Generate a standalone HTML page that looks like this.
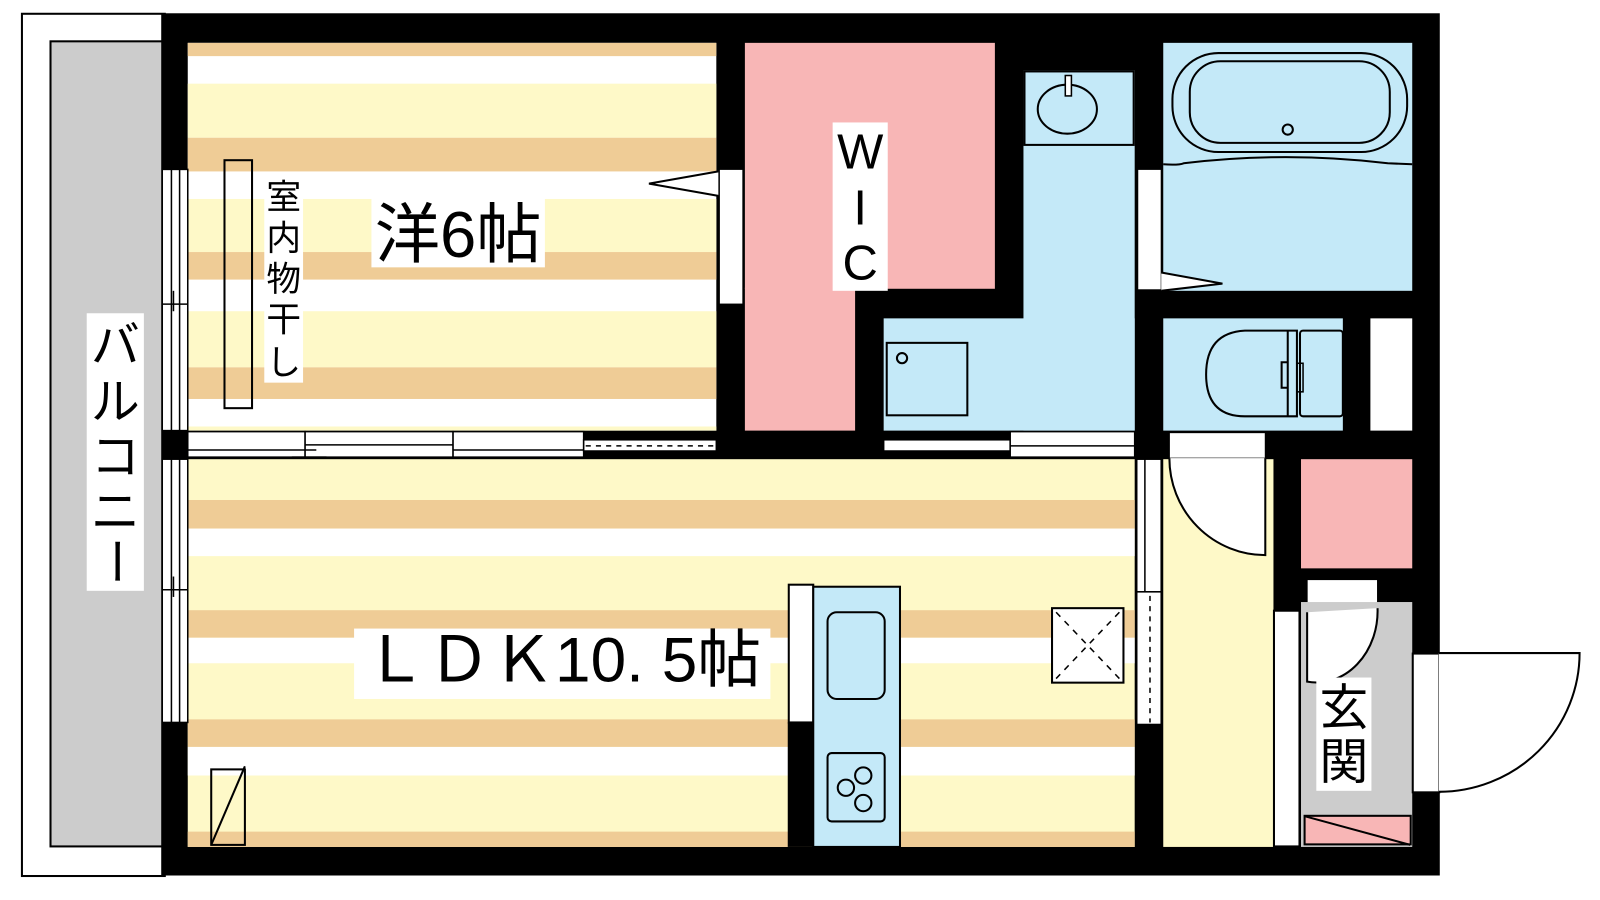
<!DOCTYPE html>
<html><head><meta charset="utf-8"><style>
html,body{margin:0;padding:0;background:#fff;}
svg{display:block;}
text{font-family:"Liberation Sans","Noto Sans CJK JP",sans-serif;fill:#000;}
</style></head><body>
<svg width="1600" height="900" viewBox="0 0 1600 900" xmlns="http://www.w3.org/2000/svg">
<g transform="scale(1.0204)">
<!-- balcony -->
<rect x="21.5" y="13.5" width="140" height="845" fill="#fff" stroke="#000" stroke-width="2"/>
<rect x="49.5" y="40.5" width="115" height="789" fill="#ccc" stroke="#000" stroke-width="2"/>
<!-- outer black -->
<rect x="158" y="13" width="1253" height="845" fill="#000"/>
<!-- western room stripes -->
<g>
<rect x="184" y="42" width="518" height="380" fill="#fff"/>
<rect x="184" y="42" width="518" height="13" fill="#efcc96"/>
<rect x="184" y="82" width="518" height="53" fill="#fef9c8"/>
<rect x="184" y="135" width="518" height="33" fill="#efcc96"/>
<rect x="184" y="195" width="518" height="52" fill="#fef9c8"/>
<rect x="184" y="247" width="518" height="27" fill="#efcc96"/>
<rect x="184" y="305" width="518" height="55" fill="#fef9c8"/>
<rect x="184" y="360" width="518" height="31" fill="#efcc96"/>
<rect x="184" y="418" width="518" height="4" fill="#fef9c8"/>
</g>
<!-- LDK stripes -->
<g>
<rect x="184" y="450" width="928" height="380" fill="#fef9c8"/>
<rect x="184" y="490" width="928" height="28" fill="#efcc96"/>
<rect x="184" y="518" width="928" height="27" fill="#fff"/>
<rect x="184" y="598" width="928" height="27" fill="#efcc96"/>
<rect x="184" y="625" width="928" height="25" fill="#fff"/>
<rect x="184" y="705" width="928" height="27" fill="#efcc96"/>
<rect x="184" y="732" width="928" height="28" fill="#fff"/>
<rect x="184" y="815" width="928" height="15" fill="#efcc96"/>
</g>
<!-- WIC -->
<rect x="730" y="42" width="245" height="241" fill="#f8b6b6"/>
<rect x="730" y="282" width="108" height="140" fill="#f8b6b6"/>
<!-- wash -->
<rect x="1003" y="69" width="109" height="353" fill="#c4e9f8"/>
<rect x="866" y="312" width="246" height="110" fill="#c4e9f8"/>
<!-- bath -->
<rect x="1140" y="42" width="244" height="243" fill="#c4e9f8"/>
<!-- toilet -->
<rect x="1140" y="312" width="176" height="110" fill="#c4e9f8"/>
<rect x="1343" y="312" width="41" height="110" fill="#fff"/>
<!-- hall -->
<rect x="1140" y="450" width="108" height="380" fill="#fef9c8"/>
<!-- pink storage -->
<rect x="1275" y="450" width="109" height="107" fill="#f8b6b6"/>
<rect x="1281" y="568" width="69" height="27" fill="#fff" stroke="#000" stroke-width="1"/>
<!-- genkan -->
<rect x="1275" y="590" width="109" height="240" fill="#ccc"/>
<rect x="1248.5" y="598.5" width="25" height="231" fill="#fff" stroke="#000" stroke-width="2"/>
<rect x="1278.5" y="799.5" width="104" height="28" fill="#f8b6b6" stroke="#000" stroke-width="2"/>
<line x1="1279" y1="800" x2="1382" y2="828" stroke="#000" stroke-width="2"/>
<path d="M1281 600 L1281 668 A60 70 0 0 0 1350 596" fill="#fff" stroke="#000" stroke-width="2"/>
<!-- outside door -->
<rect x="1384.5" y="640.5" width="26" height="136" fill="#fff" stroke="#000" stroke-width="2"/>
<path d="M1410 640 L1548 640 A138 136 0 0 1 1410 776" fill="#fff" stroke="#000" stroke-width="2"/>
<!-- hall door -->
<rect x="1146" y="424" width="94" height="25" fill="#fff" stroke="#000" stroke-width="1"/>
<path d="M1146 449 A94 95 0 0 0 1240 544 L1240 449" fill="#fff" stroke="#000" stroke-width="2"/>
<!-- western/WIC door -->
<rect x="704.5" y="165.5" width="24" height="133" fill="#fff" stroke="#000" stroke-width="2"/>
<path d="M704 168 L636 180 L704 192" fill="#fff" stroke="#000" stroke-width="2"/>
<!-- bath door -->
<rect x="1114.5" y="165.5" width="24" height="119" fill="#fff" stroke="#000" stroke-width="2"/>
<path d="M1138 267 L1198 278 L1138 285" fill="#fff" stroke="#000" stroke-width="2"/>
<!-- balcony windows -->
<g stroke="#000" stroke-width="1.5" fill="#fff">
<rect x="159" y="166" width="25" height="256"/>
<rect x="159" y="450" width="25" height="258"/>
</g>
<g stroke="#000" stroke-width="1.5">
<line x1="168" y1="166" x2="168" y2="422"/><line x1="176" y1="166" x2="176" y2="422"/>
<line x1="159" y1="298" x2="184" y2="298"/><line x1="170" y1="285" x2="170" y2="305"/>
<line x1="168" y1="450" x2="168" y2="708"/><line x1="176" y1="450" x2="176" y2="708"/>
<line x1="159" y1="578" x2="184" y2="578"/><line x1="170" y1="565" x2="170" y2="585"/>
</g>
<!-- window between western and LDK -->
<g stroke="#000" stroke-width="1.5" fill="#fff">
<rect x="184" y="431" width="389" height="17"/>
<rect x="184" y="423" width="115" height="25"/>
<rect x="299" y="423" width="145" height="25"/>
<rect x="444" y="423" width="128" height="25"/>
<rect x="572" y="431" width="130" height="11"/>
</g>
<g stroke="#000" stroke-width="1.5">
<line x1="184" y1="441" x2="310" y2="441"/><line x1="286" y1="448" x2="320" y2="448"/>
<line x1="299" y1="436" x2="444" y2="436"/>
<line x1="444" y1="441" x2="572" y2="441"/>
<line x1="574" y1="437" x2="702" y2="437" stroke-dasharray="5 5"/>
<line x1="866" y1="437" x2="990" y2="437" stroke-dasharray="5 5"/>
</g>
<g stroke="#000" stroke-width="1.5" fill="#fff">
<rect x="866" y="431" width="124" height="11"/>
<rect x="990" y="423" width="122" height="25"/>
</g>
<line x1="990" y1="437" x2="1112" y2="437" stroke="#000" stroke-width="1.5"/>
<!-- hall window -->
<g stroke="#000" stroke-width="1.5" fill="#fff">
<rect x="1114" y="450" width="24" height="130"/>
<rect x="1114" y="580" width="24" height="130"/>
</g>
<line x1="1122" y1="450" x2="1122" y2="580" stroke="#000" stroke-width="1.5"/>
<line x1="1127" y1="584" x2="1127" y2="708" stroke="#000" stroke-width="1.5" stroke-dasharray="5 5"/>
<!-- sink counter -->
<rect x="1004" y="70" width="107" height="72" fill="#c4e9f8" stroke="#000" stroke-width="2"/>
<ellipse cx="1046" cy="107" rx="29" ry="24" fill="#c4e9f8" stroke="#000" stroke-width="2"/>
<rect x="1044" y="74" width="6" height="20" fill="#fff" stroke="#000" stroke-width="1.5"/>
<!-- washer -->
<rect x="869" y="336" width="79" height="71" fill="#c4e9f8" stroke="#000" stroke-width="2"/>
<circle cx="884" cy="351" r="5" fill="none" stroke="#000" stroke-width="2"/>
<!-- tub -->
<rect x="1149" y="52" width="230" height="97" rx="45" fill="none" stroke="#000" stroke-width="2"/>
<rect x="1166" y="60" width="196" height="80" rx="30" fill="none" stroke="#000" stroke-width="2"/>
<circle cx="1262" cy="127" r="5" fill="none" stroke="#000" stroke-width="2"/>
<path d="M1140 161 Q1155 162 1160 160 Q1260 148 1360 160 L1384 161" fill="none" stroke="#000" stroke-width="2"/>
<!-- toilet -->
<path d="M1271 324 L1220 324 Q1182 326 1182 367 Q1182 408 1220 408 L1271 408 Z" fill="#c4e9f8" stroke="#000" stroke-width="2"/>
<line x1="1262" y1="324" x2="1262" y2="408" stroke="#000" stroke-width="2"/>
<path d="M1262 355 L1256 355 L1256 380 L1262 380" fill="none" stroke="#000" stroke-width="2"/>
<rect x="1274" y="324" width="42" height="84" rx="3" fill="#c4e9f8" stroke="#000" stroke-width="2"/>
<rect x="1271" y="356" width="6" height="28" fill="none" stroke="#000" stroke-width="1.5"/>
<!-- kitchen -->
<rect x="773" y="573" width="24" height="135" fill="#fff" stroke="#000" stroke-width="2"/>
<rect x="772" y="708" width="25" height="122" fill="#000"/>
<rect x="797" y="575" width="85" height="255" fill="#c4e9f8" stroke="#000" stroke-width="2"/>
<rect x="811" y="600" width="56" height="85" rx="9" fill="none" stroke="#000" stroke-width="2"/>
<rect x="811" y="738" width="56" height="67" rx="4" fill="none" stroke="#000" stroke-width="2"/>
<g fill="none" stroke="#000" stroke-width="2">
<circle cx="846" cy="760" r="8"/><circle cx="829" cy="772" r="8"/><circle cx="846" cy="787" r="8"/>
</g>
<!-- fridge -->
<rect x="1031" y="596" width="70" height="73" fill="#fff" stroke="#000" stroke-width="2"/>
<g stroke="#000" stroke-width="1.5" stroke-dasharray="6 6"><line x1="1035" y1="600" x2="1097" y2="665"/><line x1="1097" y1="600" x2="1035" y2="665"/></g>
<!-- small box LDK -->
<rect x="207" y="754" width="33" height="74" fill="none" stroke="#000" stroke-width="2"/>
<line x1="207" y1="828" x2="240" y2="751" stroke="#000" stroke-width="2"/>
<!-- drying rail -->
<rect x="220" y="157" width="27" height="243" fill="none" stroke="#000" stroke-width="2"/>
<!-- labels -->
<rect x="259" y="175" width="38" height="200" fill="#fff"/>
<text x="278" y="205" font-size="34" text-anchor="middle">室</text>
<text x="278" y="245" font-size="34" text-anchor="middle">内</text>
<text x="278" y="285" font-size="34" text-anchor="middle">物</text>
<text x="278" y="325" font-size="34" text-anchor="middle">干</text>
<text x="278" y="367" font-size="34" text-anchor="middle">し</text>
<rect x="364" y="192" width="170" height="70" fill="#fff"/>
<text x="449" y="252" font-size="64" text-anchor="middle">洋6帖</text>
<rect x="816" y="120" width="54" height="165" fill="#fff"/>
<text x="843" y="165" font-size="48" text-anchor="middle">W</text>
<text x="843" y="220" font-size="48" text-anchor="middle">I</text>
<text x="843" y="274" font-size="48" text-anchor="middle">C</text>
<rect x="347" y="616" width="408" height="69" fill="#fff"/>
<text x="551" y="668" font-size="62" text-anchor="middle" textLength="390" lengthAdjust="spacingAndGlyphs">ＬＤＫ10. 5帖</text>
<rect x="85" y="307" width="56" height="272" fill="#fff"/>
<g font-size="48" text-anchor="middle">
<text x="113" y="355">バ</text><text x="113" y="410">ル</text><text x="113" y="464">コ</text><text x="113" y="518">ニ</text>
<text x="113" y="550" transform="rotate(90 113 550)" dy="16">ー</text>
</g>
<rect x="1290" y="664" width="54" height="111" fill="#fff"/>
<text x="1317" y="710" font-size="48" text-anchor="middle">玄</text>
<text x="1317" y="763" font-size="48" text-anchor="middle">関</text>
</g>
</svg>
</body></html>
